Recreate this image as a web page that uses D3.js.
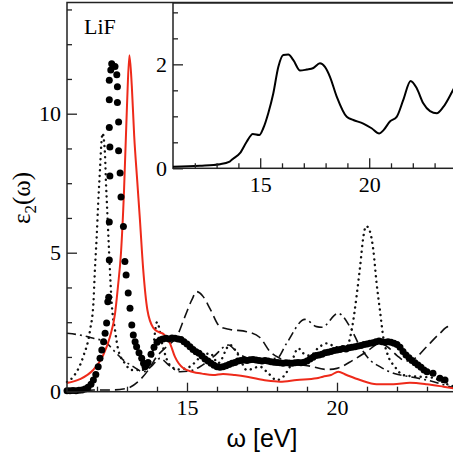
<!DOCTYPE html>
<html>
<head>
<meta charset="utf-8">
<script src="https://cdn.jsdelivr.net/npm/d3@7"></script>
<style>
  body { margin: 0; background: #fff; }
  svg { display: block; }
</style>
</head>
<body>
<div id="chart"></div>
<script>
// Experimental data (filled circles)
const expData = [
  [11.0, 0.03], [11.1, 0.03], [11.2, 0.04], [11.3, 0.03], [11.4, 0.05], [11.5, 0.06],
  [11.6, 0.1], [11.7, 0.16], [11.8, 0.27], [11.88, 0.42], [11.96, 0.62], [12.04, 0.9],
  [12.1, 1.2], [12.16, 1.5], [12.22, 1.8], [12.27, 2.1], [12.32, 2.47], [12.36, 3.24],
  [12.39, 3.4], [12.41, 4.74], [12.41, 6.1], [12.43, 7.76], [12.43, 8.8], [12.41, 9.5],
  [12.41, 10.5], [12.41, 11.2], [12.46, 11.57], [12.49, 11.8], [12.6, 11.7], [12.66, 11.4],
  [12.68, 10.97], [12.68, 10.4], [12.72, 9.7], [12.72, 8.67], [12.77, 7.87], [12.8, 7.0],
  [12.88, 5.94], [12.93, 4.68], [12.97, 4.2], [13.04, 3.55], [13.1, 3.0], [13.16, 2.4],
  [13.21, 2.04], [13.27, 1.8], [13.32, 1.62], [13.4, 1.4], [13.49, 1.2], [13.55, 1.02],
  [13.6, 0.9], [13.65, 0.95], [13.7, 1.05], [13.8, 1.35], [13.9, 1.6], [14.0, 1.78],
  [14.1, 1.86], [14.2, 1.9], [14.3, 1.92], [14.4, 1.9], [14.5, 1.93], [14.6, 1.92],
  [14.7, 1.9], [14.8, 1.88], [14.9, 1.8], [15.0, 1.72], [15.1, 1.62], [15.2, 1.52],
  [15.3, 1.44], [15.4, 1.38], [15.5, 1.28], [15.6, 1.18], [15.7, 1.1], [15.8, 1.02],
  [15.9, 0.95], [16.0, 0.9], [16.1, 0.88], [16.2, 0.9], [16.3, 0.93], [16.4, 0.98],
  [16.5, 1.02], [16.6, 1.05], [16.7, 1.1], [16.8, 1.12], [16.9, 1.14], [17.0, 1.12],
  [17.1, 1.15], [17.2, 1.16], [17.3, 1.14], [17.4, 1.12], [17.5, 1.1], [17.6, 1.12],
  [17.7, 1.1], [17.8, 1.08], [17.9, 1.06], [18.0, 1.05], [18.1, 1.04], [18.2, 1.02],
  [18.3, 1.04], [18.4, 1.03], [18.5, 1.02], [18.6, 1.04], [18.7, 1.05], [18.8, 1.04],
  [18.9, 1.06], [19.0, 1.1], [19.1, 1.18], [19.2, 1.24], [19.3, 1.3], [19.4, 1.32],
  [19.5, 1.35], [19.6, 1.4], [19.7, 1.42], [19.8, 1.45], [19.9, 1.48], [20.0, 1.5],
  [20.1, 1.52], [20.2, 1.55], [20.3, 1.54], [20.4, 1.58], [20.5, 1.6], [20.6, 1.62],
  [20.7, 1.64], [20.8, 1.66], [20.9, 1.7], [21.0, 1.72], [21.1, 1.74], [21.2, 1.76],
  [21.3, 1.8], [21.4, 1.82], [21.5, 1.8], [21.6, 1.78], [21.7, 1.8], [21.8, 1.78],
  [21.9, 1.74], [22.0, 1.7], [22.1, 1.6], [22.2, 1.45], [22.3, 1.32], [22.4, 1.22],
  [22.5, 1.12], [22.6, 1.04], [22.7, 0.96], [22.8, 0.88], [22.9, 0.78], [23.0, 0.72],
  [23.2, 0.66], [23.43, 0.48], [23.6, 0.42]
];

// Red solid curve
const redCurve = [
  [11.0, 0.31], [11.43, 0.45], [11.87, 0.78], [12.2, 1.3], [12.43, 1.97], [12.6, 2.8],
  [12.7, 3.8], [12.8, 5.0], [12.9, 7.2], [13.0, 10.3], [13.08, 12.1], [13.16, 11.0],
  [13.24, 9.2], [13.34, 7.6], [13.43, 6.2], [13.54, 4.4], [13.68, 2.94], [13.88, 2.29],
  [14.05, 2.15], [14.21, 2.08], [14.43, 1.75], [14.6, 1.25], [14.87, 0.85], [15.2, 0.71],
  [15.5, 0.65], [15.87, 0.6], [16.2, 0.64], [16.6, 0.6], [17.0, 0.54], [17.66, 0.4],
  [18.1, 0.36], [18.66, 0.42], [19.32, 0.48], [19.53, 0.54], [19.8, 0.6], [20.04, 0.72],
  [20.32, 0.6], [20.77, 0.42], [21.32, 0.27], [21.88, 0.27], [22.43, 0.32], [22.99, 0.27],
  [23.55, 0.18], [24.0, 0.1]
];

// Dotted curve
const dottedCurve = [
  [11.0, 0.35], [11.21, 0.54], [11.54, 1.26], [11.77, 2.22], [11.88, 3.18], [11.93, 4.38],
  [11.99, 5.58], [12.04, 6.78], [12.1, 8.0], [12.15, 9.0], [12.19, 9.3], [12.23, 9.05],
  [12.27, 8.45], [12.3, 7.5], [12.33, 6.78], [12.38, 5.58], [12.43, 4.38], [12.49, 3.18],
  [12.6, 2.22], [12.71, 1.5], [12.93, 1.02], [13.16, 0.78], [13.49, 0.78], [13.82, 1.2],
  [14.0, 2.5], [14.2, 1.6], [14.4, 1.0], [14.7, 0.8], [15.1, 0.9], [15.4, 1.2],
  [15.77, 1.38], [16.04, 1.03], [16.43, 1.68], [16.71, 1.32], [16.99, 0.78], [17.43, 0.9],
  [17.71, 0.66], [17.99, 0.42], [18.21, 0.54], [18.43, 0.9], [18.71, 1.56], [18.88, 1.38],
  [19.1, 1.3], [19.4, 1.6], [19.66, 1.74], [20.0, 1.6], [20.32, 1.62], [20.49, 2.22],
  [20.66, 3.5], [20.77, 4.5], [20.88, 5.58], [20.97, 5.96], [21.08, 5.82], [21.21, 5.1],
  [21.32, 3.9], [21.43, 2.94], [21.54, 1.98], [21.7, 1.3], [21.93, 0.9], [22.2, 0.6],
  [22.6, 0.55], [23.2, 0.5], [23.6, 0.3], [24.0, 0.15]
];

// Long-dashed curve
const dashedCurve = [
  [11.6, 0.02], [11.88, 0.06], [12.43, 0.06], [12.99, 0.12], [13.43, 0.42], [13.71, 0.78],
  [13.99, 1.26], [14.32, 1.62], [14.66, 1.98], [14.93, 2.7], [15.16, 3.3], [15.32, 3.6],
  [15.54, 3.42], [15.77, 2.98], [16.1, 2.34], [16.43, 2.24], [16.99, 2.16], [17.43, 1.95],
  [17.77, 1.44], [18.1, 1.2], [18.54, 1.02], [19.1, 0.92], [19.66, 0.8], [20.0, 0.84],
  [20.54, 1.14], [20.99, 1.44], [21.43, 1.74], [21.7, 1.6], [22.0, 1.3], [22.3, 1.1],
  [22.6, 1.2], [22.99, 1.62], [23.43, 2.1], [23.71, 2.34], [24.0, 2.3]
];

// Dash-dot curve
const dashDotCurve = [
  [11.0, 2.1], [11.43, 2.04], [11.88, 1.92], [12.27, 1.8], [12.54, 1.5], [12.88, 1.14],
  [13.21, 0.9], [13.54, 0.72], [13.8, 0.9], [14.1, 1.2], [14.4, 0.95], [14.77, 0.72],
  [15.1, 0.75], [15.43, 0.9], [15.88, 1.26], [16.38, 1.68], [16.71, 1.38], [17.0, 1.22],
  [17.5, 1.18], [17.99, 1.2], [18.32, 1.74], [18.93, 2.6], [19.32, 2.34], [19.5, 2.32],
  [20.04, 2.82], [20.43, 2.34], [20.77, 1.62], [21.1, 1.14], [21.43, 0.9], [21.88, 0.66],
  [22.43, 0.54], [22.99, 0.42], [23.77, 0.18], [24.0, 0.12]
];

// Inset curve
const insetCurve = [
  [11.0, 0.03], [12.24, 0.05], [13.16, 0.08], [13.6, 0.13], [13.77, 0.19], [14.07, 0.29],
  [14.38, 0.51], [14.66, 0.66], [14.96, 0.64], [15.14, 0.77], [15.37, 1.06], [15.6, 1.44],
  [15.83, 1.95], [16.06, 2.18], [16.29, 2.19], [16.52, 2.08], [16.83, 1.88], [17.13, 1.9],
  [17.44, 1.93], [17.74, 2.02], [17.97, 1.95], [18.2, 1.76], [18.51, 1.38], [18.97, 0.99],
  [19.27, 0.93], [19.73, 0.86], [20.11, 0.77], [20.46, 0.67], [20.65, 0.73], [20.95, 0.9],
  [21.26, 0.99], [21.56, 1.31], [21.9, 1.68], [22.18, 1.54], [22.48, 1.25], [22.79, 1.1],
  [23.1, 1.06], [23.4, 1.18], [23.84, 1.5], [24.0, 1.62]
];

// Tick values
const mainXTicks = [15, 20];
const mainXMinor = [12, 13, 14, 16, 17, 18, 19, 21, 22, 23];
const mainYTicks = [0, 5, 10];
const mainYMinor = [1.25, 2.5, 3.75, 6.25, 7.5, 8.75, 11.25, 12.5, 13.75];
const insetXTicks = [15, 20];
const insetXMinor = [12, 13, 14, 16, 17, 18, 19, 21, 22, 23];
const insetYTicks = [0, 2];
const insetYMinor = [0.5, 1, 1.5, 2.5, 3];

const W = 453, H = 455;
const serif = "'Liberation Serif', 'Times New Roman', serif";
const sans = "'Liberation Sans', Arial, sans-serif";
const fmt = d3.format("d");

const svg = d3.select("#chart").append("svg")
  .attr("width", W).attr("height", H);

// Main scales
const x = d3.scaleLinear().domain([11, 24]).range([67, 457]);
const y = d3.scaleLinear().domain([0, 14]).range([391.7, 2.5]);

// Inset scales
const xi = d3.scaleLinear().domain([11, 24]).range([173, 456.4]);
const yi = d3.scaleLinear().domain([0, 3.18]).range([168.3, 3]);

const line = (sx, sy) => d3.line()
  .x(d => sx(d[0])).y(d => sy(d[1]))
  .curve(d3.curveMonotoneX);

const plot = svg.append("g");

// Theory curves
plot.append("path").datum(dashedCurve)
  .attr("d", line(x, y)).attr("fill", "none")
  .attr("stroke", "#111").attr("stroke-width", 1.6)
  .attr("stroke-dasharray", "10 5");

plot.append("path").datum(dashDotCurve)
  .attr("d", line(x, y)).attr("fill", "none")
  .attr("stroke", "#111").attr("stroke-width", 1.6)
  .attr("stroke-dasharray", "9 4 2 4");

plot.append("path").datum(dottedCurve)
  .attr("d", line(x, y)).attr("fill", "none")
  .attr("stroke", "#111").attr("stroke-width", 2.4)
  .attr("stroke-linecap", "round")
  .attr("stroke-dasharray", "0.1 5.5");

plot.append("path").datum(redCurve)
  .attr("d", line(x, y)).attr("fill", "none")
  .attr("stroke", "#ee2a1a").attr("stroke-width", 2);

// Experimental points
plot.selectAll(".dot").data(expData).enter()
  .append("circle").attr("class", "dot")
  .attr("cx", d => x(d[0])).attr("cy", d => y(d[1]))
  .attr("r", 3.5).attr("fill", "#000");

// Main frame
svg.append("rect")
  .attr("x", x(11)).attr("y", y(14))
  .attr("width", x(24) - x(11)).attr("height", y(0) - y(14))
  .attr("fill", "none").attr("stroke", "#222").attr("stroke-width", 1.5);

function styleAxis(g, size) {
  g.attr("font-family", serif).attr("font-size", size);
  g.select(".domain").remove();
  g.selectAll(".tick line").attr("stroke", "#222").attr("stroke-width", 1.3);
  g.selectAll("text").attr("font-family", serif).attr("font-size", size).attr("fill", "#000");
}

// Main axes
svg.append("g").attr("transform", `translate(0,${y(0)})`)
  .call(d3.axisBottom(x).tickValues(mainXTicks).tickSize(-9).tickPadding(8).tickFormat(fmt))
  .call(g => styleAxis(g, 22));
svg.append("g").attr("transform", `translate(0,${y(0)})`)
  .call(d3.axisBottom(x).tickValues(mainXMinor).tickSize(-5).tickFormat(""))
  .call(g => styleAxis(g, 22));
svg.append("g").attr("transform", `translate(${x(11)},0)`)
  .call(d3.axisLeft(y).tickValues(mainYTicks).tickSize(-10).tickPadding(6).tickFormat(fmt))
  .call(g => styleAxis(g, 22));
svg.append("g").attr("transform", `translate(${x(11)},0)`)
  .call(d3.axisLeft(y).tickValues(mainYMinor).tickSize(-5).tickFormat(""))
  .call(g => styleAxis(g, 22));

// Inset
const inset = svg.append("g");
inset.append("rect")
  .attr("x", xi(11)).attr("y", yi(3.18))
  .attr("width", xi(24) - xi(11)).attr("height", yi(0) - yi(3.18))
  .attr("fill", "#fff").attr("stroke", "#222").attr("stroke-width", 1.5);

inset.append("path").datum(insetCurve)
  .attr("d", line(xi, yi)).attr("fill", "none")
  .attr("stroke", "#000").attr("stroke-width", 2);

inset.append("g").attr("transform", `translate(0,${yi(0)})`)
  .call(d3.axisBottom(xi).tickValues(insetXTicks).tickSize(-10).tickPadding(8).tickFormat(fmt))
  .call(g => styleAxis(g, 22));
inset.append("g").attr("transform", `translate(0,${yi(0)})`)
  .call(d3.axisBottom(xi).tickValues(insetXMinor).tickSize(-5).tickFormat(""))
  .call(g => styleAxis(g, 22));
inset.append("g").attr("transform", `translate(${xi(11)},0)`)
  .call(d3.axisLeft(yi).tickValues(insetYTicks).tickSize(-10).tickPadding(6).tickFormat(fmt))
  .call(g => styleAxis(g, 22));
inset.append("g").attr("transform", `translate(${xi(11)},0)`)
  .call(d3.axisLeft(yi).tickValues(insetYMinor).tickSize(-5).tickFormat(""))
  .call(g => styleAxis(g, 22));

// Labels
svg.append("text")
  .attr("x", 84).attr("y", 34)
  .attr("font-family", serif).attr("font-size", 22)
  .text("LiF");

svg.append("text")
  .attr("x", (x(11) + x(24)) / 2).attr("y", 447)
  .attr("text-anchor", "middle")
  .attr("font-family", sans).attr("font-size", 25)
  .text("ω [eV]");

const yLabel = svg.append("text")
  .attr("transform", "translate(30,198) rotate(-90)")
  .attr("text-anchor", "middle")
  .attr("font-family", serif).attr("font-size", 25);
yLabel.append("tspan").text("ε");
yLabel.append("tspan").attr("font-size", 17).attr("dy", 6).text("2");
yLabel.append("tspan").attr("dy", -6).text("(ω)");
</script>
</body>
</html>
